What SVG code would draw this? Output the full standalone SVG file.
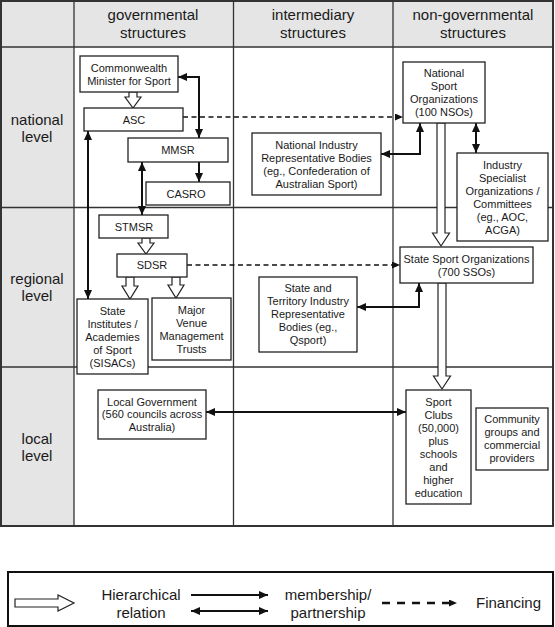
<svg xmlns="http://www.w3.org/2000/svg" width="555" height="627" viewBox="0 0 555 627">
<style>
text{font-family:"Liberation Sans",Arial,sans-serif;fill:#1a1a1a;text-anchor:middle}
.h{font-size:15px}
.n{font-size:11px}
.box{fill:#fff;stroke:#222;stroke-width:1.3}
.grid{stroke:#333;stroke-width:1.3;fill:none}
.gray{fill:#e5e5e5}
.ln{fill:none;stroke:#111;stroke-width:2}
.dash{fill:none;stroke:#111;stroke-width:1.3;stroke-dasharray:5,3.5}
.hol{fill:#fff;stroke:#222;stroke-width:1.2;stroke-linejoin:miter}
</style>
<defs>
<marker id="ah" markerUnits="userSpaceOnUse" markerWidth="9" markerHeight="8" refX="9" refY="4" orient="auto-start-reverse">
<path d="M0,0 L9,4 L0,8 z" fill="#111"/>
</marker>
<marker id="ahs" markerUnits="userSpaceOnUse" markerWidth="8" markerHeight="7" refX="8" refY="3.5" orient="auto">
<path d="M0,0 L8,3.5 L0,7 z" fill="#111"/>
</marker>
</defs>

<g id="table">
<rect class="gray" x="1" y="1" width="552" height="46"/>
<rect class="gray" x="1" y="47" width="73" height="479"/>
<rect class="grid" x="1" y="1" width="552" height="525" style="stroke-width:2"/>
<line class="grid" x1="1" y1="47" x2="553" y2="47"/>
<line class="grid" x1="1" y1="207.5" x2="553" y2="207.5"/>
<line class="grid" x1="1" y1="367" x2="553" y2="367"/>
<line class="grid" x1="74" y1="1" x2="74" y2="526"/>
<line class="grid" x1="233.5" y1="1" x2="233.5" y2="526"/>
<line class="grid" x1="393" y1="1" x2="393" y2="526"/>
<text class="h" x="153" y="20">governmental</text>
<text class="h" x="153" y="38">structures</text>
<text class="h" x="313" y="20">intermediary</text>
<text class="h" x="313" y="38">structures</text>
<text class="h" x="473" y="20">non-governmental</text>
<text class="h" x="473" y="38">structures</text>
<text class="h" x="37" y="125">national</text>
<text class="h" x="37" y="142">level</text>
<text class="h" x="37" y="284">regional</text>
<text class="h" x="37" y="301">level</text>
<text class="h" x="37" y="444">local</text>
<text class="h" x="37" y="461">level</text>
</g>

<g id="connectors">
<path class="ln" d="M178,77 H199 V138" marker-start="url(#ah)" marker-end="url(#ah)"/>
<path class="ln" d="M88,131 V299" marker-start="url(#ah)" marker-end="url(#ah)"/>
<path class="ln" d="M142,162 V215" marker-start="url(#ah)" marker-end="url(#ah)"/>
<path class="ln" d="M199,162 V182" marker-end="url(#ah)"/>
<path class="ln" d="M381,154 H420 V123" marker-start="url(#ah)" marker-end="url(#ah)"/>
<path class="ln" d="M476,123 V153" marker-start="url(#ah)" marker-end="url(#ah)"/>
<path class="ln" d="M357,307 H419 V283" marker-start="url(#ah)" marker-end="url(#ah)"/>
<path class="ln" d="M206,412 H406" marker-start="url(#ah)" marker-end="url(#ah)"/>
<path class="dash" d="M183,117 H403" marker-end="url(#ahs)"/>
<path class="dash" d="M187,265 H400" marker-end="url(#ahs)"/>
<polygon class="hol" points="129,92 137,92 137,97 141,97 133,108 125,97 129,97"/>
<polygon class="hol" points="142,238 150,238 150,243 154,243 146,254 138,243 142,243"/>
<polygon class="hol" points="126,277 134,277 134,286 138,286 130,299 122,286 126,286"/>
<polygon class="hol" points="172,277 180,277 180,285 184,285 176,298 168,285 172,285"/>
<polygon class="hol" points="437,123 445,123 445,233 449.5,233 441,246 432.5,233 437,233"/>
<polygon class="hol" points="438,283 446,283 446,376 450.5,376 442,389 433.5,376 438,376"/>
</g>

<g id="commonwealth">
<rect class="box" x="80" y="56" width="98" height="36"/>
<text class="n" x="129" y="72">Commonwealth</text>
<text class="n" x="129" y="85">Minister for Sport</text>
</g>
<g id="asc">
<rect class="box" x="84" y="108" width="99" height="23"/>
<text class="n" x="134" y="124">ASC</text>
</g>
<g id="mmsr">
<rect class="box" x="128" y="138" width="100" height="24"/>
<text class="n" x="178" y="154">MMSR</text>
</g>
<g id="casro">
<rect class="box" x="146" y="182" width="84" height="23"/>
<text class="n" x="186" y="198">CASRO</text>
</g>
<g id="stmsr">
<rect class="box" x="99" y="215" width="69" height="23"/>
<text class="n" x="134" y="231">STMSR</text>
</g>
<g id="sdsr">
<rect class="box" x="117" y="254" width="70" height="23"/>
<text class="n" x="152" y="269">SDSR</text>
</g>
<g id="sisacs">
<rect class="box" x="77" y="299" width="71" height="75"/>
<text class="n" x="112.5" y="315">State</text>
<text class="n" x="112.5" y="328">Institutes /</text>
<text class="n" x="112.5" y="341">Academies</text>
<text class="n" x="112.5" y="354">of Sport</text>
<text class="n" x="112.5" y="367">(SISACs)</text>
</g>
<g id="mvmt">
<rect class="box" x="152" y="298" width="79" height="62"/>
<text class="n" x="191.5" y="314">Major</text>
<text class="n" x="191.5" y="327">Venue</text>
<text class="n" x="191.5" y="340">Management</text>
<text class="n" x="191.5" y="353">Trusts</text>
</g>
<g id="nso">
<rect class="box" x="403" y="62" width="82" height="61"/>
<text class="n" x="444" y="77">National</text>
<text class="n" x="444" y="90">Sport</text>
<text class="n" x="444" y="103">Organizations</text>
<text class="n" x="444" y="116">(100 NSOs)</text>
</g>
<g id="nirb">
<rect class="box" x="252" y="133" width="129" height="62"/>
<text class="n" x="316.5" y="149">National Industry</text>
<text class="n" x="316.5" y="162">Representative Bodies</text>
<text class="n" x="316.5" y="175">(eg., Confederation of</text>
<text class="n" x="316.5" y="188">Australian Sport)</text>
</g>
<g id="iso">
<rect class="box" x="457" y="153" width="91" height="88"/>
<text class="n" x="502.5" y="169">Industry</text>
<text class="n" x="502.5" y="182">Specialist</text>
<text class="n" x="502.5" y="195">Organizations /</text>
<text class="n" x="502.5" y="208">Committees</text>
<text class="n" x="502.5" y="221">(eg., AOC,</text>
<text class="n" x="502.5" y="234">ACGA)</text>
</g>
<g id="sso">
<rect class="box" x="400" y="247" width="133" height="36"/>
<text class="n" x="466.5" y="263">State Sport Organizations</text>
<text class="n" x="466.5" y="276">(700 SSOs)</text>
</g>
<g id="stirb">
<rect class="box" x="259" y="277" width="98" height="75"/>
<text class="n" x="308" y="292">State and</text>
<text class="n" x="308" y="305">Territory Industry</text>
<text class="n" x="308" y="318">Representative</text>
<text class="n" x="308" y="331">Bodies (eg.,</text>
<text class="n" x="308" y="344">Qsport)</text>
</g>
<g id="localgov">
<rect class="box" x="98" y="390" width="108" height="49"/>
<text class="n" x="152" y="406">Local Government</text>
<text class="n" x="152" y="418">(560 councils across</text>
<text class="n" x="152" y="431">Australia)</text>
</g>
<g id="sportclubs">
<rect class="box" x="406" y="390" width="65" height="114"/>
<text class="n" x="438.5" y="406">Sport</text>
<text class="n" x="438.5" y="419">Clubs</text>
<text class="n" x="438.5" y="432">(50,000)</text>
<text class="n" x="438.5" y="445">plus</text>
<text class="n" x="438.5" y="458">schools</text>
<text class="n" x="438.5" y="471">and</text>
<text class="n" x="438.5" y="484">higher</text>
<text class="n" x="438.5" y="497">education</text>
</g>
<g id="community">
<rect class="box" x="476" y="408" width="72" height="62"/>
<text class="n" x="512" y="423">Community</text>
<text class="n" x="512" y="436">groups and</text>
<text class="n" x="512" y="449">commercial</text>
<text class="n" x="512" y="462">providers</text>
</g>

<g id="legend">
<rect x="8" y="572" width="545" height="54" fill="#fff" stroke="#111" stroke-width="2"/>
<polygon class="hol" points="15,599 58,599 58,595 74,603 58,611 58,607 15,607"/>
<text class="h" x="141" y="600">Hierarchical</text>
<text class="h" x="141" y="618">relation</text>
<path class="ln" d="M191,595 H268" marker-end="url(#ah)"/>
<path class="ln" d="M191,611 H268" marker-start="url(#ah)" marker-end="url(#ah)"/>
<text class="h" x="328" y="600">membership/</text>
<text class="h" x="328" y="618">partnership</text>
<path d="M382,603 H457" fill="none" stroke="#111" stroke-width="2.5" stroke-dasharray="8,7" marker-end="url(#ahs)"/>
<text class="h" x="476" y="608" style="text-anchor:start">Financing</text>
</g>
</svg>
